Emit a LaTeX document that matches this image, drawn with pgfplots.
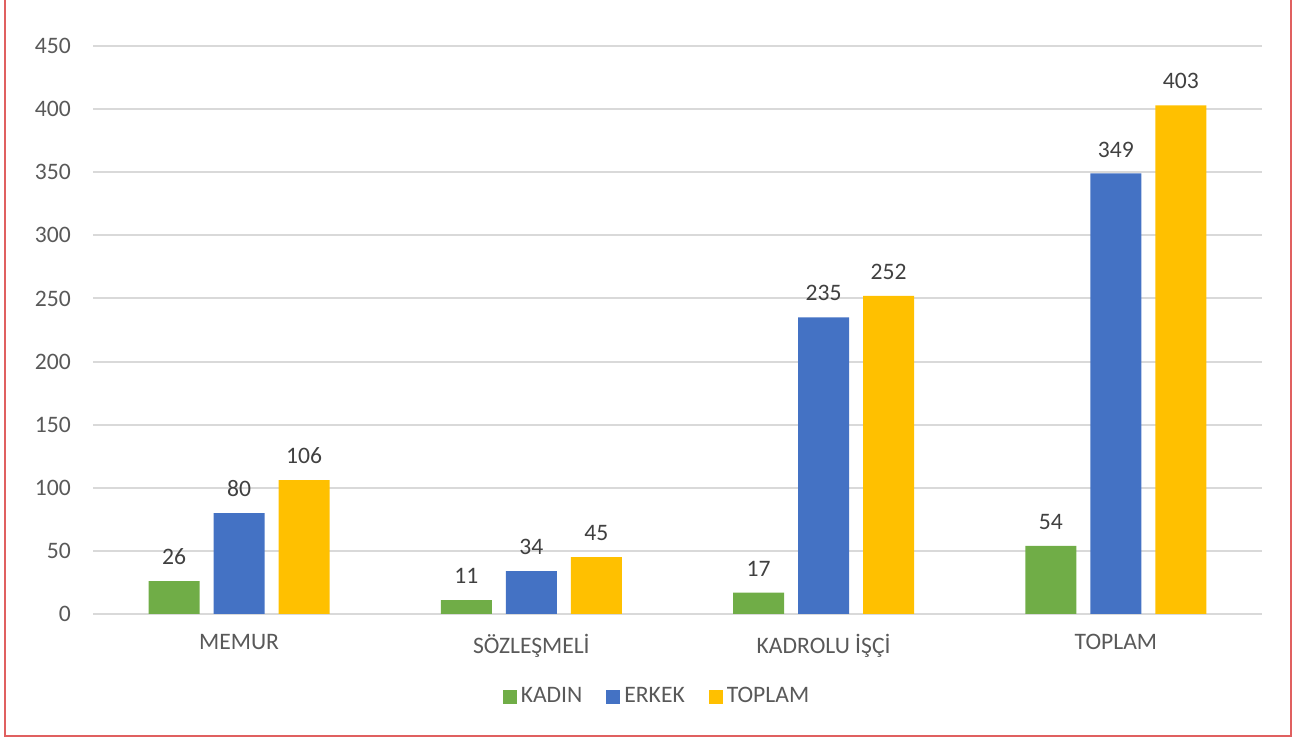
\documentclass[border=0pt]{standalone}
\usepackage{pgfplots}
\pgfplotsset{compat=1.18}
\usepackage{fontspec}
\setmainfont{Carlito}
\definecolor{cgreen}{HTML}{70AD47}
\definecolor{cblue}{HTML}{4472C4}
\definecolor{cgold}{HTML}{FFC000}
\definecolor{cgrid}{HTML}{D9D9D9}
\definecolor{ctick}{HTML}{595959}
\definecolor{clab}{HTML}{404040}
\definecolor{cred}{HTML}{E06060}
\begin{document}
\fontsize{11.8}{14}\selectfont
\begin{tikzpicture}
\useasboundingbox (-46.5pt,-61.5pt) rectangle (600pt,307pt);
\draw[cred, line width=0.8pt] (-44pt,310pt) -- (-44pt,-61pt) -- (599pt,-61pt) -- (599pt,310pt);
\begin{axis}[
  at={(0,0)}, anchor=south west,
  scale only axis,
  width=584.5pt, height=284pt,
  xmin=-0.5, xmax=3.5, ymin=0, ymax=450,
  ytick={0,50,...,450},
  xtick={0,1,2,3},
  xticklabels={MEMUR,SÖZLEŞMELİ,KADROLU İŞÇİ,TOPLAM},
  axis line style={draw=none},
  major tick length=0pt,
  ymajorgrids,
  grid style={cgrid, line width=1pt},
  /pgf/number format/assume math mode=true,
  ticklabel style={font=\fontsize{11.8}{14}\selectfont, text=ctick},
  yticklabel style={xshift=-7pt},
  xticklabel style={yshift=-6pt},
  ybar=7pt,
  bar width=25.5pt,
  nodes near coords,
  every node near coord/.append style={font=\fontsize{11.8}{14}\selectfont, text=clab, yshift=4pt},
  legend style={draw=none, fill=none, at={(axis description cs:0.4833,-0.146)}, anchor=center,
    legend columns=3, font=\fontsize{11.8}{14}\selectfont, text=ctick,
    /tikz/every even column/.append style={column sep=10pt}},
  legend image code/.code={\fill[#1] (0.5pt,-3.5pt) rectangle (7.5pt,3.5pt);},
]
\addplot[fill=cgreen, draw=none] coordinates {(0,26) (1,11) (2,17) (3,54)};
\addplot[fill=cblue, draw=none] coordinates {(0,80) (1,34) (2,235) (3,349)};
\addplot[fill=cgold, draw=none] coordinates {(0,106) (1,45) (2,252) (3,403)};
\legend{KADIN,ERKEK,TOPLAM}
\end{axis}
\end{tikzpicture}
\end{document}
